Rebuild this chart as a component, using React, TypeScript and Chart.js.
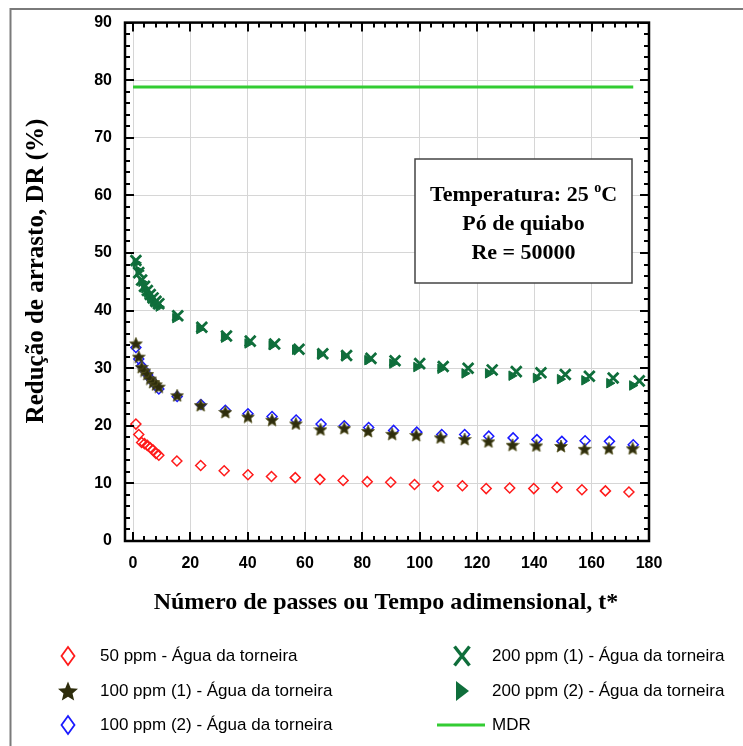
import React, { useEffect, useRef } from "react";
import { Chart, registerables } from "chart.js";
Chart.register(...registerables);

// ---- data ----
const xTickValues = [0, 20, 40, 60, 80, 100, 120, 140, 160, 180];
const yTickValues = [0, 10, 20, 30, 40, 50, 60, 70, 80, 90];

const t50 = [1, 2, 3, 4, 5, 6, 7, 8, 9, 15.3, 23.6, 31.8, 40.1, 48.3, 56.6, 65.2, 73.3, 81.7, 89.9, 98.2, 106.4, 114.9, 123.2, 131.4, 139.8, 147.9, 156.6, 164.8, 173.0];
const dr50 = [20.3, 18.5, 17.1, 16.9, 16.6, 16.2, 15.8, 15.2, 14.9, 13.9, 13.1, 12.2, 11.5, 11.2, 11.0, 10.7, 10.5, 10.3, 10.2, 9.8, 9.5, 9.6, 9.1, 9.2, 9.1, 9.3, 8.9, 8.7, 8.5];

const t100a = [1, 2, 3, 4, 5, 6, 7, 8, 9, 15.4, 23.6, 32.2, 40.1, 48.5, 56.8, 65.4, 73.7, 82.0, 90.4, 98.8, 107.3, 115.7, 124.0, 132.4, 140.7, 149.3, 157.5, 166.0, 174.3];
const dr100a = [34.3, 32.0, 30.2, 29.6, 29.0, 28.2, 27.6, 27.2, 26.8, 25.3, 23.6, 22.4, 21.6, 21.05, 20.4, 19.4, 19.6, 19.1, 18.6, 18.4, 18.0, 17.7, 17.3, 16.7, 16.6, 16.5, 16.0, 16.1, 16.1];

const t100b = [1, 2, 3, 4, 5, 6, 7, 8, 9, 15.4, 23.7, 32.2, 40.1, 48.5, 56.9, 65.6, 73.7, 82.2, 90.9, 99.0, 107.7, 115.7, 124.1, 132.6, 140.9, 149.6, 157.7, 166.2, 174.5];
const dr100b = [33.6, 31.6, 30.4, 29.6, 28.9, 28.2, 27.6, 27.0, 26.4, 25.1, 23.7, 22.7, 22.1, 21.6, 21.0, 20.3, 20.0, 19.7, 19.2, 18.9, 18.5, 18.5, 18.2, 17.9, 17.6, 17.3, 17.4, 17.3, 16.7];

const t200a = [1, 2, 3, 4, 5, 6, 7, 8, 9, 15.6, 24.0, 32.6, 40.9, 49.4, 57.9, 66.2, 74.5, 83.0, 91.4, 100.0, 108.2, 116.9, 125.3, 133.7, 142.3, 150.8, 159.2, 167.5, 176.6];
const dr200a = [48.7, 46.6, 45.3, 44.2, 43.5, 42.8, 42.2, 41.6, 41.2, 39.1, 37.1, 35.6, 34.7, 34.2, 33.3, 32.5, 32.2, 31.7, 31.3, 30.8, 30.3, 30.0, 29.7, 29.4, 29.2, 28.9, 28.6, 28.3, 27.8];

const t200b = [1, 2, 3, 4, 5, 6, 7, 8, 9, 14.8, 23.2, 31.8, 40.0, 48.4, 56.6, 65.3, 73.7, 81.8, 90.5, 98.9, 107.3, 115.7, 123.9, 132.1, 140.6, 149.0, 157.5, 166.2, 174.2];
const dr200b = [48.3, 46.9, 45.0, 43.9, 43.1, 42.4, 41.7, 41.1, 40.7, 38.7, 36.8, 35.3, 34.3, 34.0, 33.2, 32.4, 32.1, 31.4, 30.8, 30.2, 29.9, 29.1, 29.1, 28.7, 28.3, 28.1, 27.9, 27.4, 27.0];

const tMDR = [0, 174.5];
const drMDR = [78.8, 78.8];

const seriesLabels = [
  "50 ppm - Água da torneira",
  "100 ppm (1) - Água da torneira",
  "100 ppm (2) - Água da torneira",
  "200 ppm (1) - Água da torneira",
  "200 ppm (2) - Água da torneira",
  "MDR",
];
const boxLines = ["Temperatura: 25 ", "o", "C", "Pó de quiabo", "Re = 50000"];
const xTitle = "Número de passes ou Tempo adimensional, t*";
const yTitle = "Redução de arrasto, DR (%)";

// ---- styles ----
const RED = "#ff1a1a";
const OLIVE = "#2e2d0c";
const BLUE = "#1a1aff";
const DKGREEN = "#0f6e3b";
const LTGREEN = "#33cc33";
const SERIF = "'Liberation Serif', 'Times New Roman', serif";
const SANS = "'Liberation Sans', Arial, sans-serif";

function starPath(ctx: CanvasRenderingContext2D, cx: number, cy: number, R: number) {
  const r = R * 0.45;
  ctx.beginPath();
  for (let i = 0; i < 10; i++) {
    const rad = i % 2 === 0 ? R : r;
    const a = -Math.PI / 2 + (i * Math.PI) / 5;
    const px = cx + rad * Math.cos(a);
    const py = cy + rad * Math.sin(a);
    if (i === 0) ctx.moveTo(px, py);
    else ctx.lineTo(px, py);
  }
  ctx.closePath();
}

function makeStar(size: number) {
  const c = document.createElement("canvas");
  c.width = size;
  c.height = size;
  const g = c.getContext("2d")!;
  starPath(g, size / 2, size / 2 + size * 0.05, size / 2 - 0.3);
  g.fillStyle = OLIVE;
  g.fill();
  g.strokeStyle = "#55531f";
  g.lineWidth = 0.8;
  g.stroke();
  return c;
}

function pts(xs: number[], ys: number[]) {
  return xs.map((x, i) => ({ x, y: ys[i] }));
}

const decor = {
  id: "decor",
  beforeDraw(chart: any) {
    const ctx = chart.ctx as CanvasRenderingContext2D;
    ctx.save();
    ctx.fillStyle = "#fff";
    ctx.fillRect(0, 0, chart.width, chart.height);
    ctx.strokeStyle = "#7a7a7a";
    ctx.lineWidth = 2;
    ctx.beginPath();
    ctx.moveTo(10.5, 746);
    ctx.lineTo(10.5, 9);
    ctx.lineTo(743, 9);
    ctx.stroke();
    ctx.restore();
  },
  afterDraw(chart: any) {
    const ctx = chart.ctx as CanvasRenderingContext2D;
    const a = chart.chartArea;
    const xs = chart.scales.x;
    const ys = chart.scales.y;
    ctx.save();
    // inward ticks
    ctx.strokeStyle = "#000";
    ctx.lineWidth = 2;
    ctx.beginPath();
    for (let v = 0; v <= 180; v += 4) {
      const px = Math.round(xs.getPixelForValue(v));
      const len = v % 20 === 0 ? 9 : 5;
      ctx.moveTo(px, a.bottom);
      ctx.lineTo(px, a.bottom - len);
      ctx.moveTo(px, a.top);
      ctx.lineTo(px, a.top + len);
    }
    for (let v = 0; v <= 90; v += 2) {
      const py = Math.round(ys.getPixelForValue(v));
      const len = v % 10 === 0 ? 9 : 5;
      ctx.moveTo(a.left, py);
      ctx.lineTo(a.left + len, py);
      ctx.moveTo(a.right, py);
      ctx.lineTo(a.right - len, py);
    }
    ctx.stroke();
    // frame
    ctx.lineWidth = 2.5;
    ctx.strokeRect(a.left, a.top, a.right - a.left, a.bottom - a.top);

    // text box
    const bx = 415, by = 159, bw = 217, bh = 124;
    ctx.fillStyle = "#fff";
    ctx.fillRect(bx, by, bw, bh);
    ctx.strokeStyle = "#444";
    ctx.lineWidth = 1.5;
    ctx.strokeRect(bx, by, bw, bh);
    ctx.fillStyle = "#000";
    ctx.textBaseline = "middle";
    const cx = bx + bw / 2;
    const big = `bold 22px ${SERIF}`;
    const small = `bold 14px ${SERIF}`;
    ctx.font = big;
    const w1 = ctx.measureText(boxLines[0]).width;
    ctx.font = small;
    const w2 = ctx.measureText(boxLines[1]).width;
    ctx.font = big;
    const w3 = ctx.measureText(boxLines[2]).width;
    const sx = cx - (w1 + w2 + w3) / 2;
    ctx.textAlign = "left";
    ctx.fillText(boxLines[0], sx, 195);
    ctx.font = small;
    ctx.fillText(boxLines[1], sx + w1, 188);
    ctx.font = big;
    ctx.fillText(boxLines[2], sx + w1 + w2, 195);
    ctx.textAlign = "center";
    ctx.fillText(boxLines[3], cx, 224);
    ctx.fillText(boxLines[4], cx, 253);

    // axis titles
    ctx.font = `bold 24px ${SERIF}`;
    ctx.fillText(xTitle, 386, 603);
    ctx.save();
    ctx.translate(37, 271);
    ctx.rotate(-Math.PI / 2);
    ctx.font = `bold 25px ${SERIF}`;
    ctx.fillText(yTitle, 0, 0);
    ctx.restore();

    // legend
    ctx.font = `17px ${SANS}`;
    ctx.textAlign = "left";
    ctx.textBaseline = "middle";
    const rows = [656, 691, 725];
    const c1m = 68, c1t = 100, c2m = 462, c2t = 492;
    const diamond = (x: number, y: number, color: string) => {
      ctx.beginPath();
      ctx.moveTo(x, y - 9);
      ctx.lineTo(x + 6.5, y);
      ctx.lineTo(x, y + 9);
      ctx.lineTo(x - 6.5, y);
      ctx.closePath();
      ctx.strokeStyle = color;
      ctx.lineWidth = 1.8;
      ctx.stroke();
    };
    diamond(c1m, rows[0], RED);
    starPath(ctx, c1m, rows[1] + 1, 10.5);
    ctx.fillStyle = OLIVE;
    ctx.fill();
    diamond(c1m, rows[2], BLUE);
    ctx.strokeStyle = DKGREEN;
    ctx.lineWidth = 3.4;
    ctx.beginPath();
    ctx.moveTo(c2m - 7.5, rows[0] - 9.5);
    ctx.lineTo(c2m + 7.5, rows[0] + 9.5);
    ctx.moveTo(c2m + 7.5, rows[0] - 9.5);
    ctx.lineTo(c2m - 7.5, rows[0] + 9.5);
    ctx.stroke();
    ctx.fillStyle = DKGREEN;
    ctx.beginPath();
    ctx.moveTo(c2m - 6, rows[1] - 10);
    ctx.lineTo(c2m + 7, rows[1]);
    ctx.lineTo(c2m - 6, rows[1] + 10);
    ctx.closePath();
    ctx.fill();
    ctx.strokeStyle = LTGREEN;
    ctx.lineWidth = 3;
    ctx.beginPath();
    ctx.moveTo(437, rows[2]);
    ctx.lineTo(485, rows[2]);
    ctx.stroke();
    ctx.fillStyle = "#000";
    ctx.fillText(seriesLabels[0], c1t, rows[0]);
    ctx.fillText(seriesLabels[1], c1t, rows[1]);
    ctx.fillText(seriesLabels[2], c1t, rows[2]);
    ctx.fillText(seriesLabels[3], c2t, rows[0]);
    ctx.fillText(seriesLabels[4], c2t, rows[1]);
    ctx.fillText(seriesLabels[5], c2t, rows[2]);
    ctx.restore();
  },
};

export default function App() {
  const ref = useRef<HTMLCanvasElement>(null);
  useEffect(() => {
    const star = makeStar(14);
    const tickFont = { family: SANS, weight: "bold" as const, size: 16 };
    const chart = new Chart(ref.current!, {
      type: "scatter",
      data: {
        datasets: [
          {
            label: seriesLabels[0],
            data: pts(t50, dr50),
            pointStyle: "rectRot",
            pointRadius: 5,
            pointBackgroundColor: "rgba(0,0,0,0)",
            pointBorderColor: RED,
            pointBorderWidth: 1.5,
          },
          {
            label: seriesLabels[1],
            data: pts(t100a, dr100a),
            pointStyle: star as any,
            pointRadius: 7,
          },
          {
            label: seriesLabels[2],
            data: pts(t100b, dr100b),
            pointStyle: "rectRot",
            pointRadius: 5,
            pointBackgroundColor: "rgba(0,0,0,0)",
            pointBorderColor: BLUE,
            pointBorderWidth: 1.5,
          },
          {
            label: seriesLabels[3],
            data: pts(t200a, dr200a),
            pointStyle: "crossRot",
            pointRadius: 7.5,
            pointBorderColor: DKGREEN,
            pointBorderWidth: 2.8,
          },
          {
            label: seriesLabels[4],
            data: pts(t200b, dr200b),
            pointStyle: "triangle",
            pointRotation: 90,
            pointRadius: 5.5,
            pointBackgroundColor: DKGREEN,
            pointBorderColor: DKGREEN,
            pointBorderWidth: 1,
          },
          {
            type: "line" as any,
            label: seriesLabels[5],
            data: pts(tMDR, drMDR),
            showLine: true,
            borderColor: LTGREEN,
            borderWidth: 3,
            pointRadius: 0,
            fill: false,
          } as any,
        ],
      },
      options: {
        responsive: false,
        animation: false,
        devicePixelRatio: 1,
        layout: { padding: { left: 0, top: 17.5, right: 94, bottom: 165 } },
        plugins: { legend: { display: false }, tooltip: { enabled: false } },
        scales: {
          x: {
            type: "linear",
            min: -2.8,
            max: 180,
            afterBuildTicks: (s: any) => {
              s.ticks = xTickValues.map((v) => ({ value: v }));
            },
            afterFit: (s: any) => {
              s.height = 40;
            },
            grid: { color: "#d6d6d6", lineWidth: 1, drawTicks: false },
            border: { display: false },
            ticks: { padding: 13, font: tickFont, color: "#000", maxRotation: 0, autoSkip: false },
          },
          y: {
            type: "linear",
            min: 0,
            max: 90,
            afterBuildTicks: (s: any) => {
              s.ticks = yTickValues.map((v) => ({ value: v }));
            },
            afterFit: (s: any) => {
              s.width = 125;
            },
            grid: { color: "#d6d6d6", lineWidth: 1, drawTicks: false },
            border: { display: false },
            ticks: { padding: 13, font: tickFont, color: "#000", autoSkip: false },
          },
        },
      },
      plugins: [decor],
    });
    return () => chart.destroy();
  }, []);
  return (
    <div style={{ position: "fixed", left: 0, top: 0, width: 743, height: 746, background: "#fff" }}>
      <canvas ref={ref} width={743} height={746} style={{ width: 743, height: 746, display: "block" }} />
    </div>
  );
}
